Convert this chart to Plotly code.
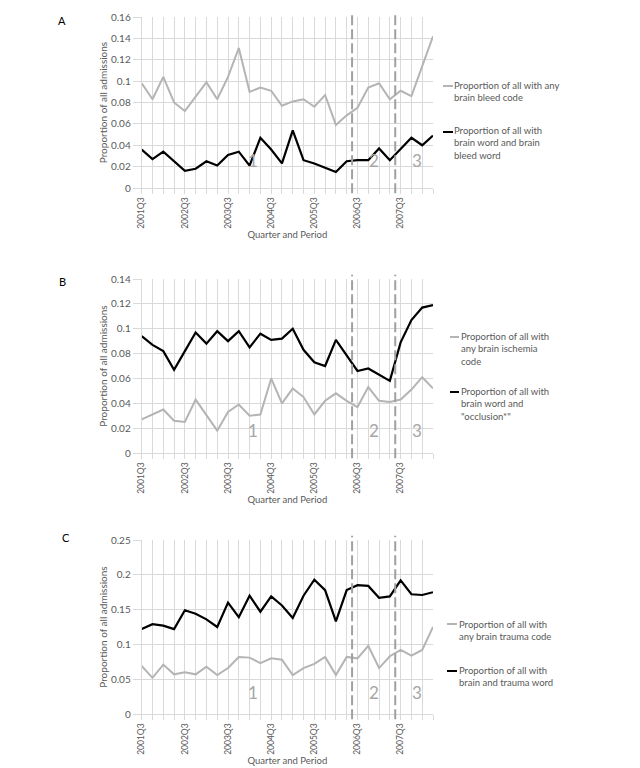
import plotly.graph_objects as go

quarters = ["2001Q3", "2001Q4", "2002Q1", "2002Q2", "2002Q3", "2002Q4", "2003Q1", "2003Q2",
            "2003Q3", "2003Q4", "2004Q1", "2004Q2", "2004Q3", "2004Q4", "2005Q1", "2005Q2",
            "2005Q3", "2005Q4", "2006Q1", "2006Q2", "2006Q3", "2006Q4", "2007Q1", "2007Q2",
            "2007Q3", "2007Q4", "2008Q1", "2008Q2"]
tick_labels = ["2001Q3", "2002Q3", "2003Q3", "2004Q3", "2005Q3", "2006Q3", "2007Q3"]

# Panel A
a_bleed_code = [0.098, 0.083, 0.104, 0.080, 0.072, 0.085, 0.099, 0.083, 0.104, 0.131,
                0.090, 0.094, 0.091, 0.077, 0.081, 0.083, 0.076, 0.087, 0.059, 0.068,
                0.075, 0.094, 0.098, 0.083, 0.091, 0.086, 0.114, 0.142]
a_bleed_word = [0.036, 0.027, 0.034, 0.025, 0.016, 0.018, 0.025, 0.021, 0.031, 0.034,
                0.021, 0.047, 0.036, 0.023, 0.054, 0.026, 0.023, 0.019, 0.015, 0.025,
                0.026, 0.026, 0.037, 0.026, 0.037, 0.047, 0.040, 0.049]
# Panel B
b_isch_code = [0.027, 0.031, 0.035, 0.026, 0.025, 0.043, 0.031, 0.018, 0.033, 0.039,
               0.030, 0.031, 0.060, 0.040, 0.052, 0.045, 0.031, 0.042, 0.048, 0.042,
               0.037, 0.053, 0.042, 0.041, 0.043, 0.051, 0.061, 0.052]
b_occl_word = [0.094, 0.087, 0.082, 0.067, 0.082, 0.097, 0.088, 0.098, 0.090, 0.098,
               0.085, 0.096, 0.091, 0.092, 0.100, 0.083, 0.073, 0.070, 0.091, 0.078,
               0.066, 0.068, 0.063, 0.058, 0.089, 0.107, 0.117, 0.119]
# Panel C
c_trauma_code = [0.069, 0.052, 0.071, 0.057, 0.060, 0.057, 0.068, 0.056, 0.066, 0.082,
                 0.081, 0.073, 0.080, 0.078, 0.056, 0.066, 0.072, 0.082, 0.056, 0.082,
                 0.080, 0.098, 0.066, 0.083, 0.092, 0.084, 0.092, 0.125]
c_trauma_word = [0.122, 0.129, 0.127, 0.122, 0.149, 0.144, 0.136, 0.125, 0.160, 0.139,
                 0.170, 0.147, 0.169, 0.156, 0.138, 0.170, 0.193, 0.178, 0.133, 0.178,
                 0.185, 0.184, 0.167, 0.169, 0.192, 0.172, 0.171, 0.175]

period_starts = ["2006Q3", "2007Q3"]
period_names = ["1", "2", "3"]

panels = [
    dict(letter="A", gray=a_bleed_code, black=a_bleed_word, ymax=0.16, dtick=0.02,
         gray_name="Proportion of all with any<br>brain bleed code",
         black_name="Proportion of all with<br>brain word and brain<br>bleed word"),
    dict(letter="B", gray=b_isch_code, black=b_occl_word, ymax=0.14, dtick=0.02,
         gray_name="Proportion of all with<br>any brain ischemia<br>code",
         black_name="Proportion of all with<br>brain word and<br>\"occlusion*\""),
    dict(letter="C", gray=c_trauma_code, black=c_trauma_word, ymax=0.25, dtick=0.05,
         gray_name="Proportion of all with<br>any brain trauma code",
         black_name="Proportion of all with<br>brain and trauma word"),
]

W, H = 640, 768
OFF = 8  # page body margin: window pixel = figure pixel + OFF
FONT = "Lato, 'Open Sans', sans-serif"
TXT = "#595959"
GRID = "#d9d9d9"
GRAY_LINE = "#b4b4b4"


def px(x):
    return (x - OFF) / W


def py(y):
    return 1 - (y - OFF) / H


# layout geometry (window pixels)
plot_left, plot_right = 141.7, 433
plot_tb = [(17, 188), (279, 453), (540, 714)]
letter_pos = [(62, 20), (62, 282), (66, 537)]
period_label_y = [0.088, 0.057, 0.052]
period_label_x = [10.3, 21.5, 25.5]
legend_geo = [
    dict(kx=(443, 453), tx=452, items=[(86, 91.5), (132, 143.5)]),
    dict(kx=(450, 459), tx=459, items=[(337, 349.5), (392, 403.5)]),
    dict(kx=(447, 457), tx=457, items=[(624, 630), (671, 676.5)]),
]

fig = go.Figure()
idx = list(range(len(quarters)))
tickvals = idx
ticktext = [q if q in tick_labels else "" for q in quarters]

shapes = []
annotations = []
for i, p in enumerate(panels):
    n = "" if i == 0 else str(i + 1)
    xa, ya = "x" + n, "y" + n
    fig.add_trace(go.Scatter(x=idx, y=p["gray"], mode="lines", xaxis=xa, yaxis=ya,
                             line=dict(color=GRAY_LINE, width=2), showlegend=False,
                             name=p["gray_name"].replace("<br>", " ")))
    fig.add_trace(go.Scatter(x=idx, y=p["black"], mode="lines", xaxis=xa, yaxis=ya,
                             line=dict(color="black", width=2.2), showlegend=False,
                             name=p["black_name"].replace("<br>", " ")))
    top, bot = plot_tb[i]
    fig.layout["xaxis" + n] = dict(
        domain=[px(plot_left), px(plot_right)], anchor=ya, range=[0, len(quarters) - 1],
        tickmode="array", tickvals=tickvals, ticktext=ticktext, tickangle=-90,
        ticks="outside", ticklen=5, tickcolor=GRID, showline=True, linecolor=GRID,
        showgrid=True, gridcolor=GRID, gridwidth=1, zeroline=False, automargin=False,
        tickfont=dict(family=FONT, size=8.5, color=TXT),
        title=dict(text="Quarter and Period", font=dict(family=FONT, size=9.5, color=TXT), standoff=3),
    )
    fig.layout["yaxis" + n] = dict(
        domain=[py(bot), py(top)], anchor=xa, range=[0, p["ymax"]],
        dtick=p["dtick"], tick0=0, ticks="outside", ticklen=8, tickcolor=GRID,
        showline=True, linecolor=GRID, showgrid=True, gridcolor=GRID, zeroline=False,
        ticklabelstandoff=0, automargin=False,
        tickfont=dict(family=FONT, size=10, color=TXT),
        title=dict(text="Proportion of all admissions", font=dict(family=FONT, size=10, color=TXT), standoff=1),
    )
    # period boundaries
    for ps in period_starts:
        xpos = quarters.index(ps) - 0.5
        shapes.append(dict(type="line", xref=xa, yref=ya + " domain", x0=xpos, x1=xpos,
                           y0=-0.03, y1=1.025, line=dict(color="#a0a0a0", width=2, dash="10px,4px")))
    for name, xp in zip(period_names, period_label_x):
        annotations.append(dict(text=name, xref=xa, yref=ya + " domain", x=xp, y=period_label_y[i],
                                showarrow=False, font=dict(family=FONT, size=17, color="#a6a6a6")))
    lx, ly = letter_pos[i]
    annotations.append(dict(text=p["letter"], xref="paper", yref="paper", x=px(lx), y=py(ly),
                            xanchor="center", yanchor="middle",
                            showarrow=False, font=dict(family=FONT, size=11, color="black")))
    # legend entries
    g = legend_geo[i]
    for (key_y, center_y), name, col in zip(g["items"], [p["gray_name"], p["black_name"]],
                                            [GRAY_LINE, "black"]):
        shapes.append(dict(type="line", xref="paper", yref="paper", x0=px(g["kx"][0]), x1=px(g["kx"][1]),
                           y0=py(key_y), y1=py(key_y), line=dict(color=col, width=2)))
        annotations.append(dict(text=name, xref="paper", yref="paper", x=px(g["tx"]), y=py(center_y),
                                xanchor="left", yanchor="middle", align="left", showarrow=False,
                                font=dict(family=FONT, size=9.5, color=TXT)))

fig.update_layout(width=W, height=H, margin=dict(l=0, r=0, t=0, b=0, autoexpand=False),
                  paper_bgcolor="white", plot_bgcolor="white", showlegend=False,
                  shapes=shapes, annotations=annotations)
fig.write_html("out.html")
